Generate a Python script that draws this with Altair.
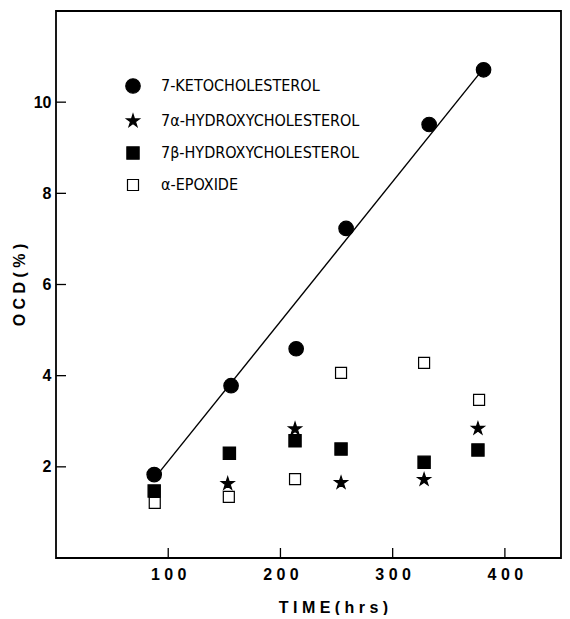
import altair as alt
import pandas as pd

# ---- data ----
series_names = ["7-KETOCHOLESTEROL", "7α-HYDROXYCHOLESTEROL", "7β-HYDROXYCHOLESTEROL", "α-EPOXIDE"]

keto_time = [87.5, 156, 214, 258.5, 332.5, 381]
keto_ocd = [1.83, 3.78, 4.59, 7.23, 9.51, 10.71]

alpha_time = [153, 213, 254, 328, 376]
alpha_ocd = [1.63, 2.83, 1.65, 1.72, 2.84]

beta_time = [87.5, 154.5, 213, 254, 328, 376]
beta_ocd = [1.47, 2.30, 2.57, 2.39, 2.10, 2.37]

epox_time = [88, 154, 213, 254, 328, 377]
epox_ocd = [1.21, 1.34, 1.73, 4.06, 4.28, 3.47]

# fitted line drawn through the 7-ketocholesterol points
line_time = [87.5, 381]
line_ocd = [1.74, 10.74]

x_ticks = [100, 200, 300, 400]
y_ticks = [2, 4, 6, 8, 10]

# ---- tables ----
rows = []
for name, ts, vs in zip(series_names,
                        [keto_time, alpha_time, beta_time, epox_time],
                        [keto_ocd, alpha_ocd, beta_ocd, epox_ocd]):
    for t, v in zip(ts, vs):
        rows.append({"series": name, "time": t, "ocd": v})
df = pd.DataFrame(rows)
line_df = pd.DataFrame({"time": line_time, "ocd": line_ocd})
xt_df = pd.DataFrame({"time": x_ticks})
yt_df = pd.DataFrame({"ocd": y_ticks})

STAR = ("M0,-1L0.2245,-0.309L0.951,-0.309L0.363,0.118L0.588,0.809L0,0.382"
        "L-0.588,0.809L-0.363,0.118L-0.951,-0.309L-0.2245,-0.309Z")

W, H = 505, 547
xscale = alt.Scale(domain=[0, 450], nice=False, zero=False)
yscale = alt.Scale(domain=[0, 12], nice=False, zero=False)

x_axis = alt.Axis(values=x_ticks, title="T I M E ( h r s )",
                  labelExpr="join(split(datum.label, ''), ' ')",
                  labelPadding=8, titlePadding=17, titleX=277, titleAlign="center",
                  labelFlush=False)
y_axis = alt.Axis(values=y_ticks, title="O C D ( % )", labelPadding=5, titlePadding=6)

def X():
    return alt.X("time:Q", scale=xscale, axis=x_axis)

def Y():
    return alt.Y("ocd:Q", scale=yscale, axis=y_axis)

legend = alt.Legend(title=None, orient="none", legendX=69, legendY=67, padding=0,
                    labelFont="Liberation Sans Narrow, DejaVu Sans Condensed, sans-serif",
                    labelFontSize=16, labelColor="black", labelOffset=20, labelLimit=500,
                    rowPadding=15, symbolStrokeColor="black", symbolStrokeWidth=1.2,
                    symbolOpacity=1)

line = alt.Chart(line_df).mark_line(color="black", strokeWidth=1.4).encode(x=X(), y=Y())

points = alt.Chart(df).mark_point(filled=True, strokeWidth=1.2, opacity=1).encode(
    x=X(), y=Y(),
    shape=alt.Shape("series:N", scale=alt.Scale(domain=series_names,
                    range=["circle", STAR, "square", "square"]), legend=legend),
    fill=alt.Fill("series:N", scale=alt.Scale(domain=series_names,
                  range=["black", "black", "black", "white"]), legend=legend),
    stroke=alt.Stroke("series:N", scale=alt.Scale(domain=series_names,
                      range=["black", "black", "black", "black"]), legend=legend),
    size=alt.Size("series:N", scale=alt.Scale(domain=series_names,
                  range=[210, 121, 72, 64]), legend=legend),
)

xticks = alt.Chart(xt_df).mark_rule(color="black", strokeWidth=1.3).encode(
    x=X(), y=alt.value(H), y2=alt.value(H - 10))
yticks = alt.Chart(yt_df).mark_rule(color="black", strokeWidth=1.3).encode(
    y=Y(), x=alt.value(0), x2=alt.value(10))

chart = alt.layer(line, points, xticks, yticks).properties(
    width=W, height=H,
    padding={"left": 3, "top": 3, "right": 1, "bottom": 0},
).configure_view(
    stroke="black", strokeWidth=1.8
).configure_axis(
    grid=False, domain=False, ticks=False, tickSize=0,
    labelFont="Liberation Sans", labelFontWeight="bold", labelFontSize=16, labelColor="black",
    titleFont="Liberation Sans", titleFontWeight="bold", titleFontSize=16, titleColor="black",
)

chart.save("out.html", embed_options={"renderer": "svg", "actions": False})
